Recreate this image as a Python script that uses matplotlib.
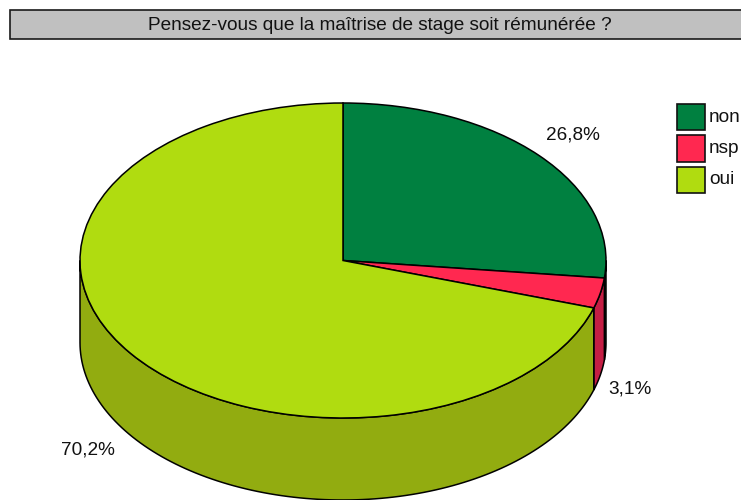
import matplotlib
matplotlib.use("Agg")
import matplotlib.pyplot as plt
import numpy as np
from matplotlib.patches import Rectangle, Polygon

labels = ["non", "nsp", "oui"]
values = [26.8, 3.1, 70.2]
value_labels = ["26,8%", "3,1%", "70,2%"]
title = "Pensez-vous que la maîtrise de stage soit rémunérée ?"
colors = ["#008040", "#FF2850", "#B0DC10"]
side_colors = ["#006633", "#C41E44", "#92AC10"]

W, H = 741, 500
plt.rcParams['font.family'] = ['Liberation Sans', 'DejaVu Sans']

fig = plt.figure(figsize=(W/100, H/100), dpi=100)

# repere en pixels pour le titre et la legende
bg = fig.add_axes([0, 0, 1, 1])
bg.set_xlim(0, W)
bg.set_ylim(H, 0)
bg.axis('off')

bg.add_patch(Rectangle((10, 9.5), 740, 29.5, fc="#C0C0C0", ec="#1a1a1a", lw=1.2, clip_on=True))
bg.text(380, 25, title, fontsize=13.7, ha='center', va='center', color="#111111")

# legende
for i, lab in enumerate(labels):
    y = [103.5, 135, 166.5][i]
    bg.add_patch(Rectangle((677, y), 27.5, 26.5, fc=colors[i], ec="#111111", lw=1.2))
    bg.text(709, y + 13.5, lab, fontsize=13.7, va='center', ha='left', color="#111111", clip_on=True)

# camembert : 1 unite = rx en x, ry en y
cx, cy, rx, ry, depth = 343, 260.5, 263, 157.5, 82
ax = fig.add_axes([0, 0, 1, 1], zorder=2)
ax.patch.set_alpha(0)

# parois du cylindre
cum = np.cumsum([0] + values) / np.sum(values)
angles = 90 - cum * 360
d = depth / ry
for i in range(3):
    a0, a1 = angles[i], angles[i + 1]
    # partie visible : entre 0 et -180 degres
    hi, lo = min(a0, 0), max(a1, -180)
    if hi <= lo:
        continue
    t = np.radians(np.linspace(hi, lo, 120))
    top = np.c_[np.cos(t), np.sin(t)]
    bot = np.c_[np.cos(t[::-1]), np.sin(t[::-1]) - d]
    ax.add_patch(Polygon(np.r_[top, bot], closed=True, fc=side_colors[i], ec="black", lw=1.1))

ax.pie(values, colors=colors, startangle=90, counterclock=False, radius=1,
       wedgeprops=dict(edgecolor="black", linewidth=1.1))
ax.set_aspect('auto')
ax.set_xlim((0 - cx) / rx, (W - cx) / rx)
ax.set_ylim((cy - H) / ry, cy / ry)
ax.axis('off')

# etiquettes des valeurs
label_pos = [(573, 135), (630, 389), (88, 450)]
for (px, py), txt in zip(label_pos, value_labels):
    bg.text(px, py, txt, fontsize=13.7, ha='center', va='center', color="#111111")

fig.savefig("out.png", dpi=100)
